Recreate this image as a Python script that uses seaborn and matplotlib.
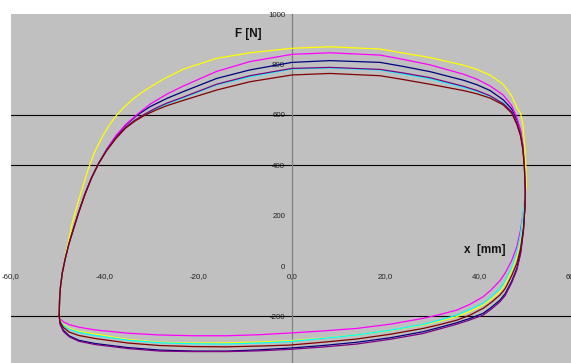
import matplotlib
matplotlib.use("Agg")
import matplotlib.pyplot as plt
import seaborn as sns
import pandas as pd

# ---- data (x in mm, F in N); each loop listed in drawing order:
# left rise -> top branch -> right drop -> bottom branch back to the start ----
navy_x = [-49.7, -49.6, -49.4, -49.0, -48.4, -47.6, -46.6, -45.5, -44.2, -42.8, -41.2, -39.5, -37.6, -35.5, -33.0,
          -30.3, -26.7, -23.2, -16.1, -9.0, 0.0, 8.1, 18.8, 23.7, 29.5, 36.6, 39.5, 42.3, 45.1, 46.9,
          48.0, 48.8, 49.3, 49.6, 49.8,
          49.7, 49.4, 48.8, 48.0, 46.9, 45.5, 44.4, 42.5, 40.8, 38.0, 35.2, 31.5, 28.0, 21.0, 13.8, 6.5, -0.4,
          -7.0, -13.9, -21.0, -28.2, -35.0, -42.0, -45.5, -47.5, -48.8, -49.5, -49.7]
navy_F = [-195, -130, -80, -25, 30, 90, 150, 215, 285, 350, 410, 465, 515, 560, 600,
          633, 666, 693, 745, 779, 809, 816, 809, 793, 772, 738, 720, 697, 660, 624,
          580, 530, 470, 400, 300,
          230, 143, 55, -9, -60, -110, -135, -165, -188, -208, -225, -244, -261, -285, -303, -316, -326,
          -333, -338, -338, -334, -324, -308, -295, -278, -255, -228, -195]

magenta_x = [-49.7, -49.6, -49.4, -49.0, -48.4, -47.6, -46.6, -45.5, -44.2, -42.8, -41.2, -39.5, -37.6, -35.5, -33.2,
             -30.3, -26.7, -23.2, -16.1, -9.0, 0.0, 8.1, 18.8, 23.7, 29.5, 36.6, 39.5, 42.3, 45.1, 46.9,
             48.0, 48.8, 49.3, 49.6, 49.8,
             49.7, 49.4, 48.8, 48.0, 46.9, 45.5, 44.4, 42.5, 40.8, 38.0, 35.2, 31.5, 28.0, 21.0, 13.8, 6.5, -0.4,
             -7.0, -13.9, -21.0, -28.2, -35.0, -42.0, -45.5, -47.5, -48.8, -49.5, -49.7]
magenta_F = [-195, -130, -80, -25, 30, 90, 150, 215, 285, 350, 410, 465, 517, 562, 600,
             643, 683, 715, 773, 812, 841, 847, 838, 821, 799, 762, 742, 715, 679, 637,
             590, 540, 480, 400, 320,
             270, 215, 145, 77, 22, -28, -58, -95, -122, -152, -175, -193, -208, -231, -248, -258, -266,
             -273, -277, -277, -274, -267, -254, -243, -233, -222, -210, -195]

yellow_x = [-49.7, -49.6, -49.3, -48.9, -48.4, -47.7, -47.0, -46.0, -44.9, -43.5, -42.2, -40.6, -39.0, -37.4, -35.8, -34.0,
            -32.0, -30.0, -27.5, -23.2, -16.1, -9.0, 0.0, 8.1, 18.8, 23.7, 29.5, 36.6, 39.5, 42.3, 45.1, 46.9,
            48.0, 48.8, 49.3, 49.7, 49.9, 50.0,
            49.7, 49.4, 48.8, 48.0, 46.9, 45.5, 44.4, 42.5, 40.8, 38.0, 35.2, 31.5, 28.0, 21.0, 13.8, 6.5, -0.4,
            -7.0, -13.9, -21.0, -28.2, -35.0, -42.0, -45.5, -47.5, -48.8, -49.5, -49.7]
yellow_F = [-190, -130, -70, -20, 37, 100, 165, 232, 300, 385, 450, 510, 560, 600, 632, 662,
            690, 714, 742, 782, 825, 847, 865, 871, 862, 846, 828, 798, 781, 758, 722, 675,
            630, 606, 560, 470, 400, 320,
            270, 205, 115, 37, -18, -72, -102, -132, -155, -180, -201, -219, -234, -256, -274, -287, -297,
            -302, -305, -306, -303, -292, -270, -260, -248, -232, -216, -190]

cyan_x = [-49.7, -49.6, -49.4, -49.0, -48.4, -47.6, -46.6, -45.5, -44.2, -42.8, -41.2, -39.5, -37.6, -35.5, -33.5, -31.5,
          -29.0, -26.7, -23.2, -16.1, -9.0, 0.0, 8.1, 18.8, 23.7, 29.5, 36.6, 39.5, 42.3, 45.1, 46.9,
          48.0, 48.8, 49.3, 49.6, 49.8,
          49.7, 49.4, 48.8, 48.0, 46.9, 45.5, 44.4, 42.5, 40.8, 38.0, 35.2, 31.5, 28.0, 21.0, 13.8, 6.5, -0.4,
          -7.0, -13.9, -21.0, -28.2, -35.0, -42.0, -45.5, -47.5, -48.8, -49.5, -49.7]
cyan_F = [-195, -130, -80, -25, 30, 90, 150, 215, 285, 350, 410, 462, 508, 550, 578, 600,
          625, 644, 668, 720, 752, 783, 787, 779, 763, 744, 710, 694, 674, 647, 613,
          568, 522, 465, 395, 300,
          270, 210, 125, 55, -5, -58, -89, -122, -148, -172, -195, -215, -232, -255, -274, -288, -300,
          -306, -310, -309, -305, -295, -276, -264, -252, -236, -218, -195]

purple_x = list(cyan_x)
purple_F = [-195, -130, -80, -25, 30, 90, 150, 215, 285, 350, 410, 462, 510, 552, 580, 603,
            628, 647, 671, 722, 756, 785, 789, 781, 767, 748, 714, 697, 676, 645, 613,
            568, 522, 465, 395, 300,
            230, 140, 50, -15, -66, -117, -142, -172, -195, -214, -231, -250, -268, -291, -310, -322, -331,
            -337, -340, -340, -338, -328, -312, -299, -282, -260, -232, -195]

maroon_x = list(cyan_x)
maroon_F = [-195, -130, -80, -25, 30, 90, 150, 215, 285, 350, 410, 460, 506, 548, 576, 598,
            620, 637, 658, 699, 732, 759, 765, 756, 741, 722, 697, 684, 667, 640, 607,
            562, 515, 460, 392, 300,
            230, 150, 70, 11, -38, -90, -115, -145, -168, -195, -215, -233, -248, -271, -290, -303, -314,
            -318, -321, -320, -316, -306, -288, -276, -263, -244, -222, -195]

series_names = ["navy", "magenta", "yellow", "cyan", "purple", "maroon"]
series_colors = ["#000080", "#FF00FF", "#FFFF00", "#00FFFF", "#800080", "#800000"]
series_x = [navy_x, magenta_x, yellow_x, cyan_x, purple_x, maroon_x]
series_F = [navy_F, magenta_F, yellow_F, cyan_F, purple_F, maroon_F]

y_ticks = [1000, 800, 600, 400, 200, 0, -200]
x_ticks = [-60, -40, -20, 0, 20, 40, 60]
x_tick_labels = ["-60,0", "-40,0", "-20,0", "0,0", "20,0", "40,0", "60,0"]
grid_levels = [600, 400, -200]

# ---- figure ----
sns.set_style("white")
plt.rcParams["font.family"] = ["Liberation Sans", "DejaVu Sans"]

fig = plt.figure(figsize=(5.71, 3.63), dpi=100)
ax = fig.add_axes([10.9 / 571, (363 - 366.7) / 363, 562.2 / 571, 352.4 / 363])
ax.set_facecolor("#C0C0C0")

frames = []
for name, xs, fs in zip(series_names, series_x, series_F):
    assert len(xs) == len(fs), name
    frames.append(pd.DataFrame({"x": xs, "F": fs, "series": name}))
df = pd.concat(frames, ignore_index=True)

for g in grid_levels:
    ax.axhline(g, color="black", lw=0.8, zorder=1)

sns.lineplot(data=df, x="x", y="F", hue="series", hue_order=series_names,
             palette=dict(zip(series_names, series_colors)), sort=False,
             estimator=None, legend=False, lw=0.9, ax=ax, zorder=3)

ax.set_xlim(-60, 60)
ax.set_ylim(-400, 1000)

for s in ["top", "right"]:
    ax.spines[s].set_visible(False)
ax.spines["left"].set_position(("data", 0))
ax.spines["left"].set_color("#808080")
ax.spines["left"].set_linewidth(0.9)
ax.spines["left"].set_zorder(2)
ax.spines["bottom"].set_position(("data", 0))
ax.spines["bottom"].set_visible(False)

ax.set_yticks(y_ticks)
ax.set_yticklabels([str(v) for v in y_ticks])
ax.set_xticks(x_ticks)
ax.set_xticklabels(x_tick_labels)
ax.tick_params(axis="y", direction="out", length=2.2, width=0.7, color="#404040",
               pad=2.8, labelsize=5.7, labelcolor="#222222")
ax.tick_params(axis="x", direction="out", length=1.8, width=0.7, color="#808080",
               pad=3.0, labelsize=5.7, labelcolor="#222222")
for lab in ax.get_xticklabels() + ax.get_yticklabels():
    lab.set_zorder(5)
ax.set_xlabel("")
ax.set_ylabel("")

ax.text(-9.4, 922, "F [N]", ha="center", va="center", fontsize=8.5,
        fontweight="bold", color="#111111")
ax.text(41.1, 65.6, "x  [mm]", ha="center", va="center", fontsize=8.5,
        fontweight="bold", color="#111111")

fig.savefig("out.png", dpi=100, facecolor="white")
